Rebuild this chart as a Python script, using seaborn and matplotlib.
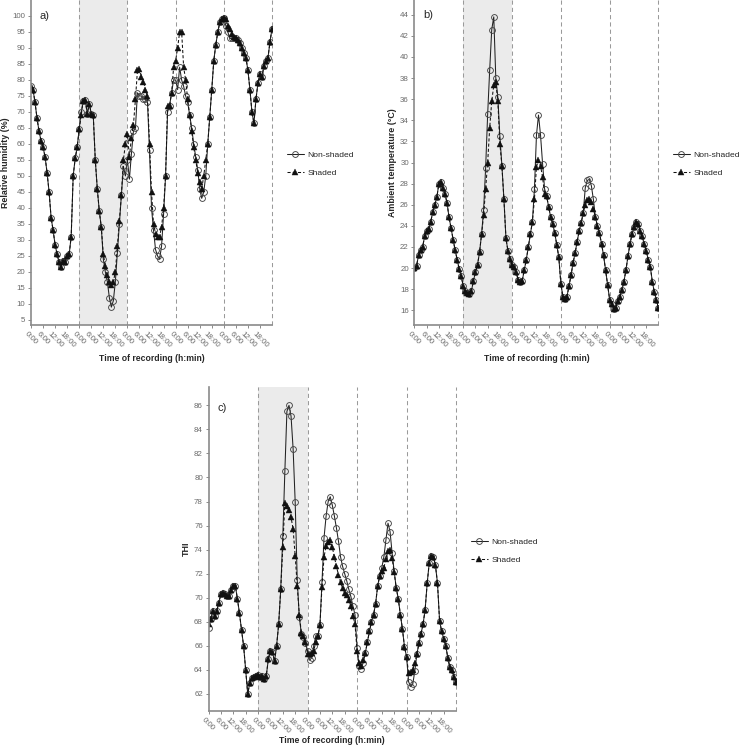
import matplotlib
matplotlib.use("Agg")
import matplotlib.pyplot as plt
import seaborn as sns
import numpy as np

# hourly readings over five days (hour 0 .. 120)
hours = np.arange(121)
tick_hours = np.arange(0, 120, 6)
tick_labels = ["0:00", "6:00", "12:00", "18:00"] * 5
day_lines = [24, 48, 72, 96, 120]
shaded_day = (24, 48)

rh_shaded = [
    78, 77, 73, 68, 64, 61, 59, 56, 51, 45, 37, 33, 28.5, 25.5, 23, 21.5, 23.5, 23, 25, 25.5, 31, 50, 55.5, 59, 64.7,
    69, 73.5, 73.6, 69.5, 72.5, 69.5, 68.9, 55, 46, 39, 34, 25.5, 22, 19, 17, 16, 17, 20, 28, 36, 44, 55, 60, 63,
    56, 62, 66, 74, 83, 83.5, 81, 79.5, 77, 75, 60, 45, 35, 32, 31, 31, 34, 40, 50, 72, 72, 76, 84, 86,
    90, 95, 95, 84, 80, 74, 69, 64, 59, 55, 51, 48, 46, 50, 55, 60, 68.5, 77, 86, 91, 95, 98, 99, 99.5,
    99, 97, 96, 94.5, 93.5, 93, 92.5, 91.5, 90, 88.5, 87, 83, 77, 70, 66.5, 74, 79, 82, 81, 84.5, 86, 87, 92, 96,
]
rh_nonshaded = [
    78, 77, 73, 68, 64, 61, 59, 56, 51, 45, 37, 33, 28.5, 25.5, 23, 21.5, 23.5, 23, 25, 25.5, 31, 50, 55.5, 59, 64.7,
    70, 73.5, 73.6, 69.5, 72.5, 69.5, 68.9, 55, 46, 39, 34, 24, 20, 17, 12, 9, 11, 17, 26, 35, 44, 53, 50, 55,
    49, 57, 64, 65, 76, 75, 75, 74, 74, 73, 58, 40, 33, 27, 25, 24, 28, 38, 50, 70, 72, 76, 80, 80,
    77, 84, 80, 78, 75, 73, 69, 65, 60, 56, 52, 46, 43, 45, 50, 60, 68.5, 77, 86, 91, 95, 98, 99, 99.5,
    97, 95, 93, 93, 93, 93, 92.5, 91.5, 90, 88.5, 87, 83, 77, 70, 66.5, 74, 79, 82, 81, 84.5, 86, 87, 92, 96,
]

temp_shaded = [
    20, 20.2, 21.2, 21.7, 22, 23, 23.5, 23.7, 24.4, 25.3, 26, 26.7, 28, 28.2, 27.6, 27, 26.2, 24.8, 23.8, 22.7,
    21.7, 20.8, 19.9, 19.2, 18.3,
    17.8, 17.6, 17.5, 17.8, 18.8, 19.6, 20.3, 21.5, 23.2, 25, 27.5, 30, 33.3, 35.8, 37.3, 37.6, 35.8, 31.8, 29.7,
    26.5, 22.8, 21.6, 20.9, 20.3,
    20.1, 19.6, 18.9, 18.7, 18.8, 19.8, 20.8, 22.0, 23.2, 24.4, 26.5, 29.6, 30.2, 29.7, 28.6, 27, 26.8, 25.8, 24.8,
    24.2, 23.3, 22.2, 21, 18.5,
    17.3, 17.1, 17.3, 18.3, 19.3, 20.5, 21.4, 22.5, 23.5, 24.3, 25.2, 26, 26.4, 26.5, 26.3, 25.6, 24.8, 24.0, 23.3,
    22.3, 21.2, 19.8, 18.4, 17.0,
    16.6, 16.1, 16.2, 16.9, 17.3, 17.9, 18.7, 19.8, 21.1, 22.3, 23.2, 23.9, 24.4, 24.2, 23.5, 23.0, 22.3, 21.6, 20.8,
    20.1, 18.7, 17.7, 17.0, 16.2,
]
temp_nonshaded = [
    20, 20.2, 21.2, 21.7, 22, 23, 23.5, 23.7, 24.4, 25.3, 26, 26.7, 28, 28.2, 27.6, 27, 26.2, 24.8, 23.8, 22.7,
    21.7, 20.8, 19.9, 19.2, 18.3,
    17.8, 17.6, 17.5, 17.8, 18.8, 19.6, 20.3, 21.5, 23.2, 25.5, 29.5, 34.6, 38.8, 42.6, 43.8, 38, 36.2, 32.5, 29.7,
    26.5, 22.8, 21.6, 20.9, 20.3,
    20.1, 19.6, 18.9, 18.7, 18.8, 19.8, 20.8, 22.0, 23.2, 24.4, 27.5, 32.6, 34.5, 32.6, 29.9, 27.5, 26.8, 25.8, 24.8,
    24.2, 23.3, 22.2, 21, 18.5,
    17.3, 17.1, 17.3, 18.3, 19.3, 20.5, 21.4, 22.5, 23.5, 24.3, 25.2, 27.6, 28.3, 28.4, 27.8, 26.5, 24.8, 24.0, 23.3,
    22.3, 21.2, 19.8, 18.4, 17.0,
    16.6, 16.1, 16.2, 16.9, 17.3, 17.9, 18.7, 19.8, 21.1, 22.3, 23.2, 23.9, 24.4, 24.2, 23.5, 23.0, 22.3, 21.6, 20.8,
    20.1, 18.7, 17.7, 17.0, 16.2,
]

thi_shaded = [
    67.8, 68.2, 68.9, 68.5, 68.9, 69.6, 70.3, 70.4, 70.3, 70.1, 70.1, 70.6, 71.0, 71.0, 69.9, 68.7, 67.3, 66.0,
    64.0, 62.0, 62.9, 63.3, 63.4, 63.5, 63.6,
    63.4, 63.5, 63.2, 63.5, 64.9, 65.6, 65.5, 64.7, 66.0, 67.8, 70.7, 74.2, 77.9, 77.6, 77.3, 76.7, 75.7, 73.5,
    71.0, 68.6, 67.1, 66.8, 66.3, 65.3,
    65.3, 65.4, 65.6, 66.3, 66.8, 67.7, 70.9, 73.4, 74.3, 74.6, 74.8, 74.2, 73.4, 72.6, 71.9, 71.3, 70.8, 70.4,
    70.2, 69.8, 69.3, 68.5, 67.8, 65.6,
    64.6, 64.3, 64.8, 65.4, 66.3, 67.2, 68.0, 68.6, 69.5, 71.0, 71.8, 72.2, 72.5, 73.2, 73.9, 74.0, 73.3, 72.1,
    70.8, 69.9, 68.6, 67.4, 65.9, 65.1,
    63.7, 63.8, 64.0, 64.6, 65.3, 66.2, 67.0, 67.8, 69.0, 71.2, 72.9, 73.5, 73.4, 72.7, 71.2, 68.1, 67.2, 66.6,
    66.0, 65.0, 64.2, 64.0, 63.4, 63.0,
]
thi_nonshaded = [
    67.5, 68.2, 68.9, 68.5, 68.9, 69.6, 70.3, 70.4, 70.3, 70.1, 70.1, 70.6, 71.0, 71.0, 69.9, 68.7, 67.3, 66.0,
    64.0, 62.0, 62.9, 63.3, 63.4, 63.5, 63.6,
    63.4, 63.5, 63.2, 63.5, 64.9, 65.6, 65.5, 64.7, 66.0, 67.8, 70.7, 75.1, 80.5, 85.5, 86.0, 85.1, 82.4, 78.0,
    71.5, 68.4, 67.0, 66.7, 66.2, 65.6,
    64.8, 65.0, 66.0, 66.8, 66.8, 67.7, 71.3, 75.0, 76.8, 78.0, 78.4, 77.7, 76.8, 75.8, 74.7, 73.4, 72.6, 72.0,
    71.4, 70.7, 70.1, 69.3, 68.6, 65.8,
    64.3, 64.1, 64.6, 65.4, 66.3, 67.2, 68.0, 68.6, 69.5, 71.0, 71.8, 72.5, 73.4, 74.8, 76.2, 75.5, 73.7, 72.2,
    70.8, 69.9, 68.6, 67.4, 65.9, 65.1,
    63.0, 62.6, 62.8, 63.9, 65.3, 66.2, 67.0, 67.8, 69.0, 71.2, 72.9, 73.5, 73.4, 72.7, 71.2, 68.1, 67.2, 66.6,
    66.0, 65.0, 64.2, 64.0, 63.4, 63.0,
]

sns.set_theme(style="white")
plt.rcParams["font.family"] = ["Liberation Sans", "DejaVu Sans"]

fig = plt.figure(figsize=(7.4, 7.47), dpi=100)
ax_a = fig.add_axes([0.0419, 0.5649, 0.3257, 0.4351])
ax_b = fig.add_axes([0.5601, 0.5649, 0.3297, 0.4351])
ax_c = fig.add_axes([0.2818, 0.0486, 0.3345, 0.4329])


def draw_panel(ax, nonshaded, shaded, ylabel, yticks, ylim, tag, tag_xy, leg_xy, xpad=3):
    ax.axvspan(*shaded_day, color="#ebebeb", lw=0, zorder=0)
    for d in day_lines:
        ax.axvline(d, color="#9a9a9a", ls=(0, (4, 3)), lw=0.75, zorder=1, clip_on=False)
    sns.lineplot(x=hours, y=nonshaded, ax=ax, color="#222222", lw=0.75, marker="o", markersize=4.2,
                 markerfacecolor="none", markeredgecolor="#444444", markeredgewidth=0.65, label="Non-shaded")
    sns.lineplot(x=hours, y=shaded, ax=ax, color="#111111", lw=0.75, ls=(0, (3, 2)), marker="^", markersize=4.0,
                 markerfacecolor="#111111", markeredgecolor="#111111", markeredgewidth=0.3, label="Shaded")
    ax.set_xlim(0, 120)
    ax.set_ylim(*ylim)
    ax.set_yticks(yticks)
    ax.set_xticks(tick_hours)
    ax.set_xticklabels(tick_labels, rotation=-45, ha="center")
    sns.despine(ax=ax)
    for side in ["left", "bottom"]:
        ax.spines[side].set_color("#8a8a8a")
        ax.spines[side].set_linewidth(1.2)
    ax.tick_params(bottom=True, left=True, length=2.5, width=0.7, color="#8a8a8a",
                   labelsize=5.7, labelcolor="#6a6a6a", pad=1.5)
    ax.set_xlabel("Time of recording (h:min)", fontsize=6.2, fontweight="bold", labelpad=xpad)
    ax.set_ylabel(ylabel, fontsize=6.4, fontweight="bold", labelpad=2)
    ax.text(tag_xy[0], tag_xy[1], tag, transform=ax.transAxes, fontsize=8, ha="left", va="top")
    ax.legend(loc="center left", bbox_to_anchor=leg_xy, bbox_transform=fig.transFigure, frameon=False,
              fontsize=6.1, handlelength=2.0, handletextpad=0.45, labelspacing=1.2, borderpad=0,
              borderaxespad=0, numpoints=1)


draw_panel(ax_a, rh_nonshaded, rh_shaded, "Relative humidity (%)", np.arange(5, 101, 5), (3.4, 105),
           "a)", (0.036, 0.965), (0.3874, 0.7805))
draw_panel(ax_b, temp_nonshaded, temp_shaded, "Ambient temperature (°C)", np.arange(16, 45, 2), (14.6, 45.4),
           "b)", (0.035, 0.968), (0.909, 0.7805))
draw_panel(ax_c, thi_nonshaded, thi_shaded, "THI", np.arange(62, 87, 2), (60.6, 87.5),
           "c)", (0.038, 0.953), (0.636, 0.2625), xpad=0.5)

fig.savefig("out.png", dpi=100)
